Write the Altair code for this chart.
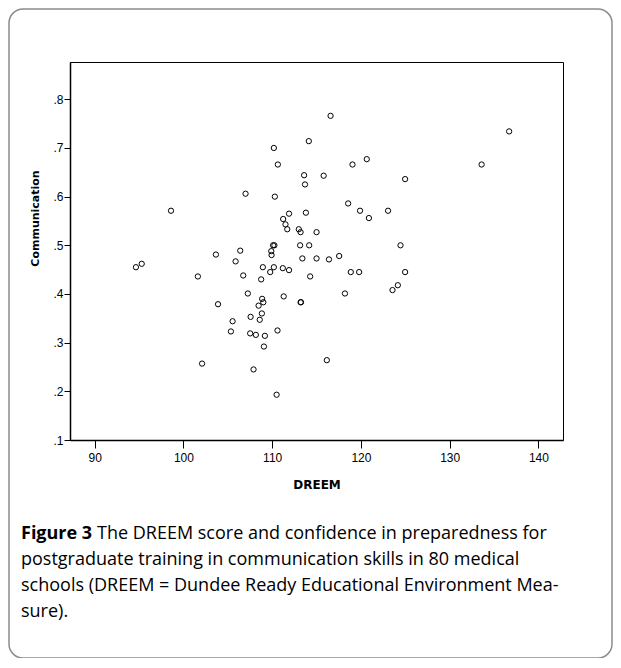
import altair as alt
import pandas as pd

# ---- data (80 medical schools) ----
dreem = [94.65, 95.3, 98.6, 101.63, 102.1, 103.66, 103.9, 105.35, 105.54, 105.88,
         106.4, 106.74, 107.0, 107.26, 107.52, 107.57, 107.9, 108.16, 108.47, 108.6,
         108.76, 108.84, 108.87, 108.95, 109.0, 109.07, 109.18, 109.78, 109.9, 109.93,
         110.1, 110.25, 110.19, 110.19, 110.3, 110.5, 110.6, 110.64, 111.2, 111.24,
         111.3, 111.5, 111.7, 111.9, 111.9, 113.0, 113.15, 113.2, 113.2, 113.25,
         113.4, 113.6, 113.7, 113.8, 114.13, 114.17, 114.28, 115.0, 115.0, 115.8,
         116.16, 116.4, 116.58, 117.55, 118.2, 118.56, 118.86, 119.05, 119.8, 119.9,
         120.66, 120.9, 123.06, 123.56, 124.16, 124.46, 124.98, 124.98, 133.6, 136.7]
communication = [0.455, 0.462, 0.571, 0.436, 0.257, 0.481, 0.379, 0.323, 0.344, 0.467,
                 0.489, 0.438, 0.606, 0.401, 0.319, 0.353, 0.245, 0.316, 0.376, 0.347,
                 0.430, 0.360, 0.390, 0.455, 0.383, 0.292, 0.314, 0.445, 0.488, 0.480,
                 0.500, 0.500, 0.455, 0.700, 0.600, 0.193, 0.325, 0.666, 0.453, 0.554,
                 0.395, 0.543, 0.533, 0.565, 0.449, 0.533, 0.500, 0.527, 0.383, 0.383,
                 0.473, 0.644, 0.625, 0.567, 0.714, 0.500, 0.436, 0.527, 0.473, 0.643,
                 0.264, 0.471, 0.766, 0.478, 0.401, 0.586, 0.445, 0.666, 0.445, 0.571,
                 0.677, 0.556, 0.571, 0.408, 0.418, 0.500, 0.636, 0.445, 0.666, 0.734]

x_ticks = [90, 100, 110, 120, 130, 140]
y_ticks = [0.1, 0.2, 0.3, 0.4, 0.5, 0.6, 0.7, 0.8]
x_title = "DREEM"
y_title = "Communication"
caption_bold = "Figure 3"
caption_lines = [
    "The DREEM score and confidence in preparedness for",
    "postgraduate training in communication skills in 80 medical",
    "schools (DREEM = Dundee Ready Educational Environment Mea-",
    "sure).",
]

df = pd.DataFrame({"DREEM": dreem, "Communication": communication})
one = pd.DataFrame({"k": [0]})

W, H = 493, 378

points = alt.Chart(df).mark_point(
    shape="circle", filled=False, size=28, strokeWidth=1, color="black", opacity=1
).encode(
    x=alt.X("DREEM:Q",
            scale=alt.Scale(domain=[87.22, 142.77], nice=False, zero=False),
            axis=alt.Axis(values=x_ticks, title=x_title, grid=False,
                          titleFont="DejaVu Sans", titleFontWeight="bold", titleFontSize=12,
                          titleX=W / 2, titleY=44, titleBaseline="middle", titleAlign="center",
                          titleColor="black",
                          labelFont="Liberation Sans", labelFontSize=12, labelColor="black",
                          tickSize=8, labelPadding=4, tickColor="black",
                          domainColor="black", domainWidth=1.5)),
    y=alt.Y("Communication:Q",
            scale=alt.Scale(domain=[0.1, 0.8766], nice=False, zero=False),
            axis=alt.Axis(values=y_ticks, title=y_title, grid=False,
                          labelExpr="replace(format(datum.value, '.1f'), '0.', '.')",
                          titleFont="DejaVu Sans", titleFontWeight="bold", titleFontSize=11,
                          titleX=-35, titleY=156, titleAngle=270, titleBaseline="middle",
                          titleAlign="center", titleColor="black",
                          labelFont="Liberation Sans", labelFontSize=12, labelColor="black",
                          tickSize=6, labelPadding=1, tickColor="black",
                          domainColor="black", domainWidth=1.5)),
)

border = alt.Chart(one).mark_rect(
    fillOpacity=0, stroke="#8c8c8c", strokeWidth=1.5, cornerRadius=14
).encode(x=alt.value(-61), x2=alt.value(542), y=alt.value(-53), y2=alt.value(596))


def txt(s, x, y, bold):
    return alt.Chart(one).mark_text(
        align="left", baseline="middle", font="Open Sans", fontSize=18,
        fontWeight="bold" if bold else "normal", color="black"
    ).encode(x=alt.value(x), y=alt.value(y), text=alt.value(s))


cap_x = -49
cap_y0 = 472
cap_dy = 26
texts = [txt(caption_bold, cap_x, cap_y0, True), txt(caption_lines[0], 27, cap_y0, False)]
for i, line in enumerate(caption_lines[1:], start=1):
    texts.append(txt(line, cap_x, cap_y0 + i * cap_dy, False))

chart = alt.layer(border, points, *texts).properties(
    width=W, height=H,
    autosize=alt.AutoSizeParams(type="none"),
    padding={"left": 62, "top": 54, "right": 50, "bottom": 218},
    background="white",
).configure_view(stroke="black", strokeWidth=1)

chart.save("out.html", embed_options={"renderer": "svg", "actions": False})
